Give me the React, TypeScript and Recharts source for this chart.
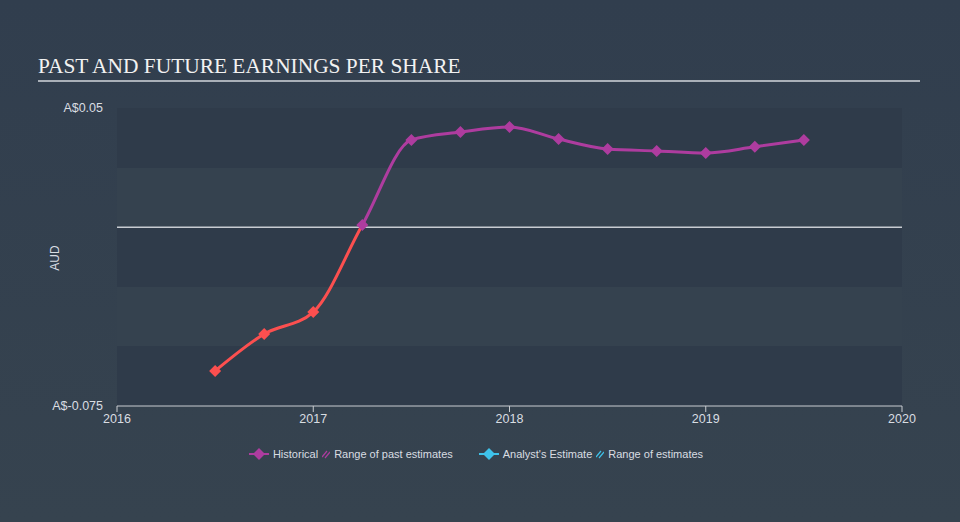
import { LineChart, Line, XAxis, YAxis, CartesianGrid, ReferenceLine } from 'recharts'

const years = [2016.5, 2016.75, 2017, 2017.25, 2017.5, 2017.75, 2018, 2018.25, 2018.5, 2018.75, 2019, 2019.25, 2019.5]
const eps = [-0.0603, -0.0448, -0.0356, 0.0009, 0.0366, 0.0399, 0.042, 0.037, 0.0328, 0.032, 0.0311, 0.0337, 0.0366]
const xTicks = [2016, 2017, 2018, 2019, 2020]
const yTicks = [-0.075, -0.05, -0.025, 0, 0.025, 0.05]
const yLabels: Record<string, string> = { '0.05': 'A$0.05', '-0.075': 'A$-0.075' }

const POS = '#ae3c9f'
const NEG = '#fc4f4f'
const CYAN = '#3ec2ea'
const TEXT = '#d9dde2'
const FONT = '"Liberation Sans", Arial, sans-serif'

const data = years.map((year, i) => ({ year, eps: eps[i] }))

// where zero falls inside the line's bounding box, for the red/purple split
const maxV = Math.max(...eps)
const minV = Math.min(...eps)
const zeroOffset = maxV / (maxV - minV)

function Diamond(props: any) {
  const { cx, cy, payload, index } = props
  if (cx == null || cy == null) return null
  const r = 6
  return (
    <path
      key={`dot-${index}`}
      d={`M${cx},${cy - r} L${cx + r},${cy} L${cx},${cy + r} L${cx - r},${cy} Z`}
      fill={payload.eps >= 0 ? POS : NEG}
    />
  )
}

function LegendItem({ color, hatch, label }: { color: string; hatch?: boolean; label: string }) {
  return (
    <span style={{ display: 'inline-flex', alignItems: 'center', marginRight: 4 }}>
      {hatch ? (
        <svg width={8} height={10} style={{ marginRight: 4 }}>
          <line x1={0} y1={8} x2={5} y2={2} stroke={color} strokeWidth={1.2} />
          <line x1={3} y1={9} x2={8} y2={3} stroke={color} strokeWidth={1.2} />
        </svg>
      ) : (
        <svg width={20} height={12} style={{ marginRight: 4 }}>
          <rect x={0} y={5} width={20} height={2} fill={color} />
          <path d="M10,0 L16,6 L10,12 L4,6 Z" fill={color} />
        </svg>
      )}
      {label}
    </span>
  )
}

export default function App() {
  return (
    <div
      style={{
        position: 'absolute',
        left: 0,
        top: 0,
        width: 960,
        height: 522,
        background: 'linear-gradient(180deg, #313e4e 0%, #36434f 100%)',
        fontFamily: FONT,
        overflow: 'hidden',
      }}
    >
      <div
        style={{
          position: 'absolute',
          left: 38,
          top: 54,
          fontFamily: '"Liberation Serif", "Times New Roman", serif',
          fontSize: 21.4,
          color: '#f2f2f2',
          whiteSpace: 'nowrap',
        }}
      >
        PAST AND FUTURE EARNINGS PER SHARE
      </div>
      <div style={{ position: 'absolute', left: 38, top: 80, width: 882, height: 2, background: '#aab0b8' }} />

      <div
        style={{
          position: 'absolute',
          left: 55,
          top: 258,
          transform: 'translate(-50%, -50%) rotate(-90deg)',
          fontSize: 12,
          color: TEXT,
        }}
      >
        AUD
      </div>

      <div style={{ position: 'absolute', left: 0, top: 0 }}>
        <LineChart width={960} height={522} data={data} margin={{ top: 108, right: 58, bottom: 86, left: 37 }}>
          <defs>
            <linearGradient id="epsSplit" x1="0" y1="0" x2="0" y2="1">
              <stop offset={zeroOffset} stopColor={POS} />
              <stop offset={zeroOffset} stopColor={NEG} />
            </linearGradient>
          </defs>
          <CartesianGrid
            vertical={false}
            stroke="none"
            horizontalFill={['#2f3b4a', '#35424f']}
            fillOpacity={1}
          />
          <XAxis
            dataKey="year"
            type="number"
            domain={[2016, 2020]}
            ticks={xTicks}
            height={30}
            tick={{ fill: TEXT, fontSize: 12.5, fontFamily: FONT }}
            axisLine={{ stroke: '#c9ccd1', strokeWidth: 1 }}
            tickLine={{ stroke: '#c9ccd1' }}
            tickSize={6}
            allowDataOverflow
          />
          <YAxis
            type="number"
            domain={[-0.075, 0.05]}
            ticks={yTicks}
            width={80}
            tickFormatter={(v: number) => yLabels[String(v)] ?? ''}
            tick={{ fill: TEXT, fontSize: 12.5, fontFamily: FONT }}
            axisLine={false}
            tickLine={false}
            tickMargin={8}
          />
          <ReferenceLine y={0} stroke="#c8ccd2" strokeWidth={1.5} />
          <Line
            type="monotone"
            dataKey="eps"
            stroke="url(#epsSplit)"
            strokeWidth={3}
            dot={Diamond}
            activeDot={false}
            isAnimationActive={false}
          />
        </LineChart>
      </div>

      <div
        style={{
          position: 'absolute',
          left: 0,
          width: 960,
          top: 448,
          display: 'flex',
          justifyContent: 'center',
          fontSize: 11,
          color: TEXT,
          whiteSpace: 'nowrap',
        }}
      >
        <div style={{ display: 'flex', alignItems: 'center', marginLeft: -4 }}>
          <LegendItem color={POS} label="Historical" />
          <LegendItem color={POS} hatch label="Range of past estimates" />
          <span style={{ width: 22 }} />
          <LegendItem color={CYAN} label="Analyst's Estimate" />
          <LegendItem color={CYAN} hatch label="Range of estimates" />
        </div>
      </div>
    </div>
  )
}
